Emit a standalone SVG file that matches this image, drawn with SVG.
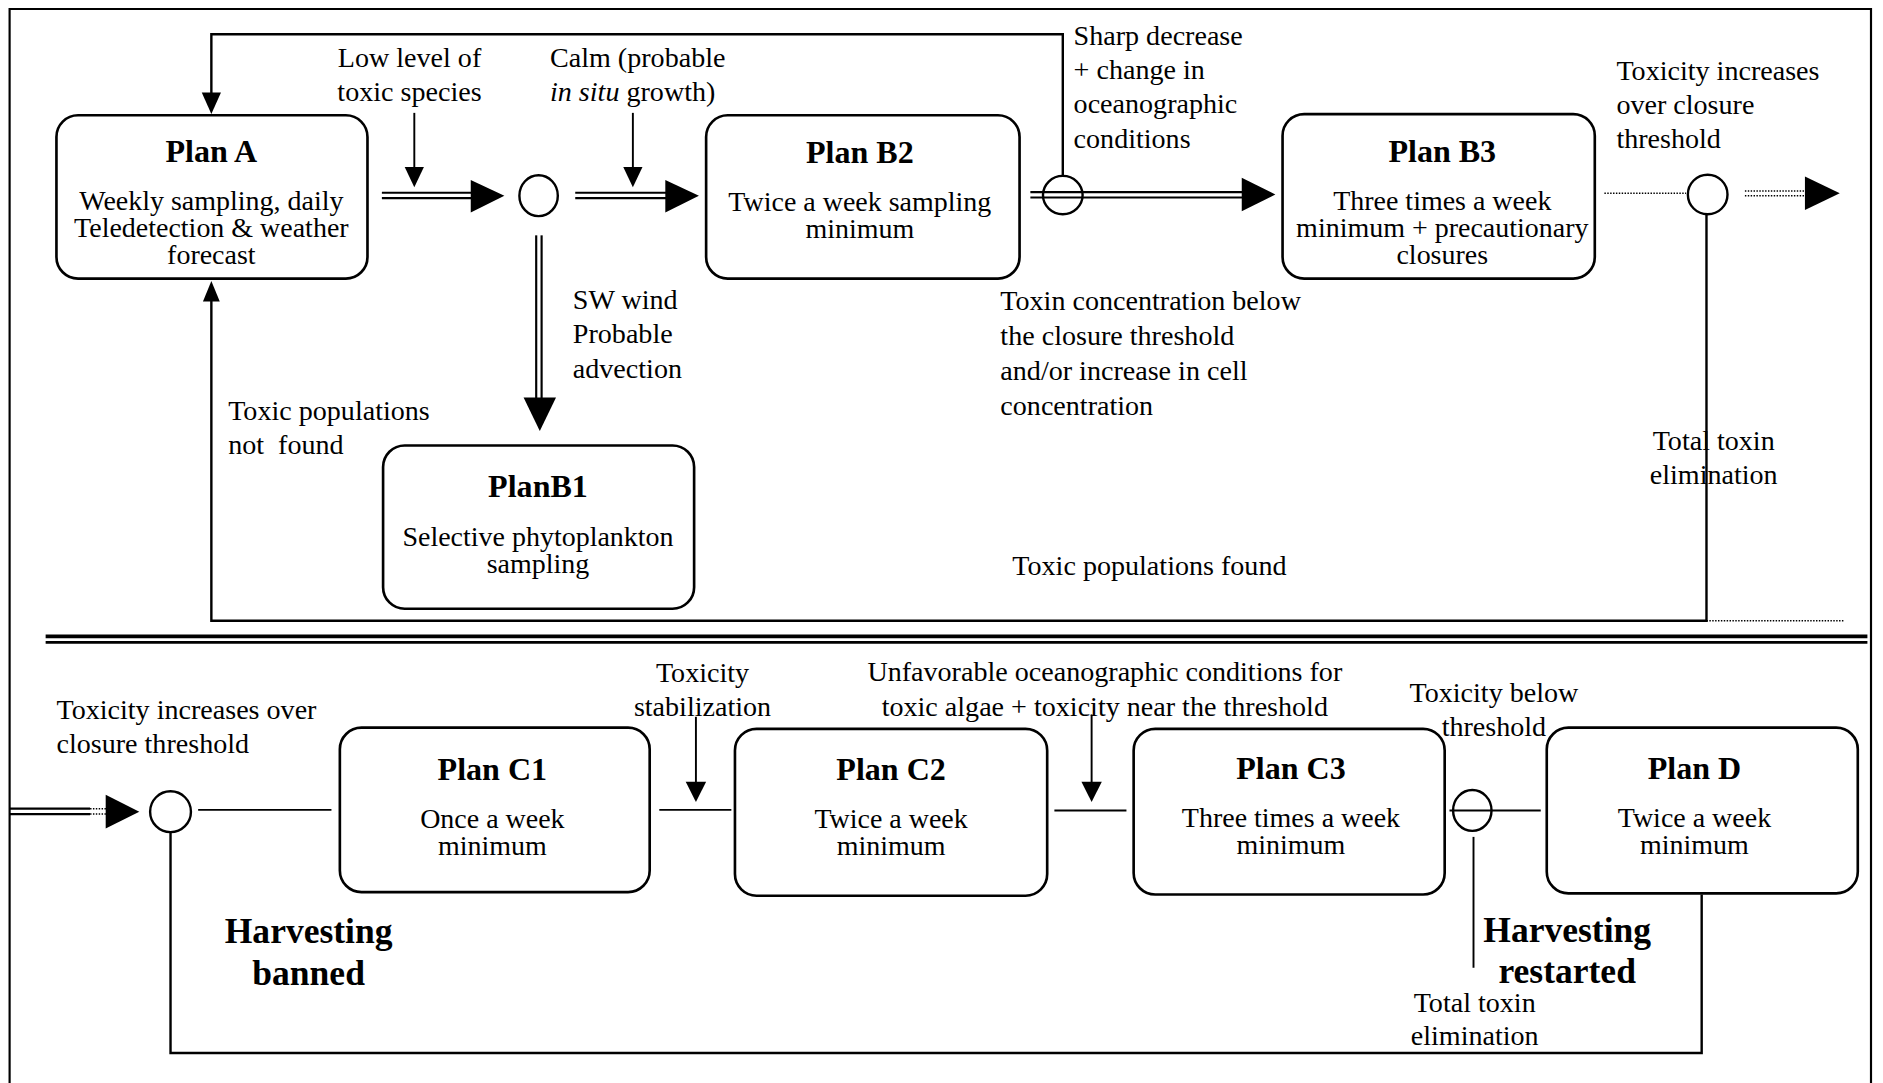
<svg xmlns="http://www.w3.org/2000/svg" width="1883" height="1083" viewBox="0 0 1883 1083">
<style>
.box{fill:#fff;stroke:#000;stroke-width:2.2}
.ln{fill:none;stroke:#000;stroke-width:1.6}
.dl{fill:none;stroke:#000;stroke-width:1.8}
.dot{fill:none;stroke:#000;stroke-width:1.2;stroke-dasharray:1.2 1.2}
.head{fill:#000;stroke:none}
.circ{fill:#fff;stroke:#000;stroke-width:2}
text{font-family:"Liberation Serif","Times New Roman",serif;fill:#000}
.t{font-size:26.7px;font-weight:bold;text-anchor:middle}
.b{font-size:23.3px;text-anchor:middle}
.l{font-size:23.4px}
.c{font-size:23.4px;text-anchor:middle}
.h{font-size:29.6px;font-weight:bold;text-anchor:middle}
</style>
<rect width="1883" height="1083" fill="#fff"/>
<g transform="scale(1.2009 1.2007)">
<g id="frame">
<path class="ln" d="M8 906 V7.5 H1558 V906" style="stroke-width:1.8"/>
<line class="ln" x1="38" y1="530" x2="1555" y2="530" style="stroke-width:3"/>
<line class="ln" x1="38" y1="535" x2="1555" y2="535" style="stroke-width:2.4"/>
</g>
<g id="connectors">
<!-- Plan A -> circle1 -->
<line class="dl" x1="318" y1="160.5" x2="394" y2="160.5"/>
<line class="dl" x1="318" y1="165" x2="394" y2="165"/>
<polygon class="head" points="392,150 420,163 392,177"/>
<!-- low level arrow -->
<line class="ln" x1="345" y1="94" x2="345" y2="142"/>
<polygon class="head" points="337,139 353,139 345,156"/>
<!-- circle1 -> Plan B2 -->
<line class="dl" x1="479" y1="160.5" x2="556" y2="160.5"/>
<line class="dl" x1="479" y1="165" x2="556" y2="165"/>
<polygon class="head" points="554,150 582,163 554,177"/>
<!-- calm arrow -->
<line class="ln" x1="527" y1="94" x2="527" y2="142"/>
<polygon class="head" points="519,139 535,139 527,156"/>
<!-- circle1 -> PlanB1 -->
<line class="dl" x1="446.5" y1="196" x2="446.5" y2="333"/>
<line class="dl" x1="451" y1="196" x2="451" y2="333"/>
<polygon class="head" points="436,331 463,331 449.5,359"/>
<!-- feedback top loop -->
<path class="ln" d="M885 146 V28.5 H176 V80" style="stroke-width:2"/>
<polygon class="head" points="168,77 184,77 176,95"/>
<!-- bottom loop to Plan A -->
<path class="ln" d="M1421 178 V517 H176 V248" style="stroke-width:2"/>
<polygon class="head" points="169,251 183,251 176,234"/>
<line class="dot" x1="1421" y1="517" x2="1535" y2="517"/>
<!-- B2 -> B3 -->
<line class="dl" x1="858" y1="160" x2="1036" y2="160"/>
<line class="dl" x1="858" y1="164.5" x2="1036" y2="164.5"/>
<polygon class="head" points="1034,148 1062,162 1034,176"/>
<!-- B3 -> circle3 -> next -->
<line class="dot" x1="1336" y1="161" x2="1404" y2="161"/>
<line class="dot" x1="1453" y1="159" x2="1503" y2="159"/>
<line class="dot" x1="1453" y1="163" x2="1503" y2="163"/>
<polygon class="head" points="1503,147 1532,161 1503,175"/>
<!-- bottom left incoming -->
<line class="dl" x1="8" y1="673.5" x2="75" y2="673.5"/>
<line class="dl" x1="8" y1="678" x2="75" y2="678"/>
<line class="dot" x1="75" y1="673.5" x2="89" y2="673.5"/>
<line class="dot" x1="75" y1="678" x2="89" y2="678"/>
<polygon class="head" points="88,662 116,676 88,690"/>
<!-- circle4 -> C1 -->
<line class="ln" x1="165" y1="674.5" x2="276" y2="674.5"/>
<!-- C1 -> C2 -->
<line class="ln" x1="549" y1="674.5" x2="609" y2="674.5"/>
<line class="ln" x1="579.5" y1="597" x2="579.5" y2="654"/>
<polygon class="head" points="571,651 588,651 579.5,668"/>
<!-- C2 -> C3 -->
<line class="ln" x1="878" y1="675" x2="938" y2="675"/>
<line class="ln" x1="909" y1="595" x2="909" y2="654"/>
<polygon class="head" points="900.5,651 917.5,651 909,668"/>
<!-- C3 - circle - D -->
<line class="ln" x1="1207" y1="675" x2="1283" y2="675"/>
<line class="ln" x1="1227" y1="697" x2="1227" y2="806"/>
<!-- bottom loop -->
<path class="ln" d="M142 693 V877 H1417 V745" style="stroke-width:2"/>
</g>
<g id="junctions">
<ellipse class="circ" cx="448.5" cy="163" rx="16" ry="17"/>
<ellipse class="circ" cx="885" cy="162.5" rx="16.5" ry="16" style="fill:none"/>
<ellipse class="circ" cx="1422" cy="162" rx="16.5" ry="16.5"/>
<ellipse class="circ" cx="142" cy="676" rx="17" ry="17"/>
<ellipse class="circ" cx="1226" cy="675" rx="16" ry="17" style="fill:none"/>
</g>
<g id="planA">
<rect class="box" x="47" y="96" width="259" height="136" rx="18"/>
<text class="t" x="176" y="135">Plan A</text>
<text class="b" x="176" y="175">Weekly sampling, daily</text>
<text class="b" x="176" y="197.5">Teledetection &amp; weather</text>
<text class="b" x="176" y="220">forecast</text>
</g>
<g id="planB2">
<rect class="box" x="588" y="96" width="261" height="136" rx="18"/>
<text class="t" x="716" y="135.5">Plan B2</text>
<text class="b" x="716" y="176">Twice a week sampling</text>
<text class="b" x="716" y="198.5">minimum</text>
</g>
<g id="planB3">
<rect class="box" x="1068" y="95" width="260" height="137" rx="18"/>
<text class="t" x="1201" y="135">Plan B3</text>
<text class="b" x="1201" y="175">Three times a week</text>
<text class="b" x="1201" y="197.5">minimum + precautionary</text>
<text class="b" x="1201" y="220">closures</text>
</g>
<g id="planB1">
<rect class="box" x="319" y="371" width="259" height="136" rx="18"/>
<text class="t" x="448" y="414">PlanB1</text>
<text class="b" x="448" y="454.5">Selective phytoplankton</text>
<text class="b" x="448" y="477">sampling</text>
</g>
<g id="planC1">
<rect class="box" x="283" y="606" width="258" height="137" rx="18"/>
<text class="t" x="410" y="649.5">Plan C1</text>
<text class="b" x="410" y="689.5">Once a week</text>
<text class="b" x="410" y="712">minimum</text>
</g>
<g id="planC2">
<rect class="box" x="612" y="607" width="260" height="139" rx="18"/>
<text class="t" x="742" y="650">Plan C2</text>
<text class="b" x="742" y="690">Twice a week</text>
<text class="b" x="742" y="712.5">minimum</text>
</g>
<g id="planC3">
<rect class="box" x="944" y="607" width="259" height="138" rx="18"/>
<text class="t" x="1075" y="649">Plan C3</text>
<text class="b" x="1075" y="688.5">Three times a week</text>
<text class="b" x="1075" y="711">minimum</text>
</g>
<g id="planD">
<rect class="box" x="1288" y="606" width="259" height="138" rx="18"/>
<text class="t" x="1411" y="649">Plan D</text>
<text class="b" x="1411" y="689">Twice a week</text>
<text class="b" x="1411" y="711.5">minimum</text>
</g>
<g id="labels">
<text class="c" x="341" y="56">Low level of</text>
<text class="c" x="341" y="84.5">toxic species</text>
<text class="l" x="458" y="56">Calm (probable</text>
<text class="l" x="458" y="84.5"><tspan font-style="italic">in situ</tspan> growth)</text>
<text class="l" x="894" y="37.5">Sharp decrease</text>
<text class="l" x="894" y="66">+ change in</text>
<text class="l" x="894" y="94.5">oceanographic</text>
<text class="l" x="894" y="123">conditions</text>
<text class="l" x="1346" y="66.5">Toxicity increases</text>
<text class="l" x="1346" y="95">over closure</text>
<text class="l" x="1346" y="123">threshold</text>
<text class="l" x="477" y="257">SW wind</text>
<text class="l" x="477" y="286">Probable</text>
<text class="l" x="477" y="314.5">advection</text>
<text class="l" x="190" y="350">Toxic populations</text>
<text class="l" x="190" y="378.5" xml:space="preserve">not  found</text>
<text class="l" x="833" y="258.5">Toxin concentration below</text>
<text class="l" x="833" y="287.5">the closure threshold</text>
<text class="l" x="833" y="316.5">and/or increase in cell</text>
<text class="l" x="833" y="345.5">concentration</text>
<text class="c" x="1427" y="375">Total toxin</text>
<text class="c" x="1427" y="403.5">elimination</text>
<text class="l" x="843" y="479">Toxic populations found</text>
<text class="l" x="47" y="599">Toxicity increases over</text>
<text class="l" x="47" y="627.5">closure threshold</text>
<text class="c" x="585" y="568">Toxicity</text>
<text class="c" x="585" y="596">stabilization</text>
<text class="c" x="920" y="567.5">Unfavorable oceanographic conditions for</text>
<text class="c" x="920" y="596">toxic algae + toxicity near the threshold</text>
<text class="c" x="1244" y="585">Toxicity below</text>
<text class="c" x="1244" y="613">threshold</text>
<text class="h" x="257" y="785">Harvesting</text>
<text class="h" x="257" y="820">banned</text>
<text class="h" x="1305" y="784.5">Harvesting</text>
<text class="h" x="1305" y="819">restarted</text>
<text class="c" x="1228" y="842.5">Total toxin</text>
<text class="c" x="1228" y="870.5">elimination</text>
</g>
</g>
</svg>
